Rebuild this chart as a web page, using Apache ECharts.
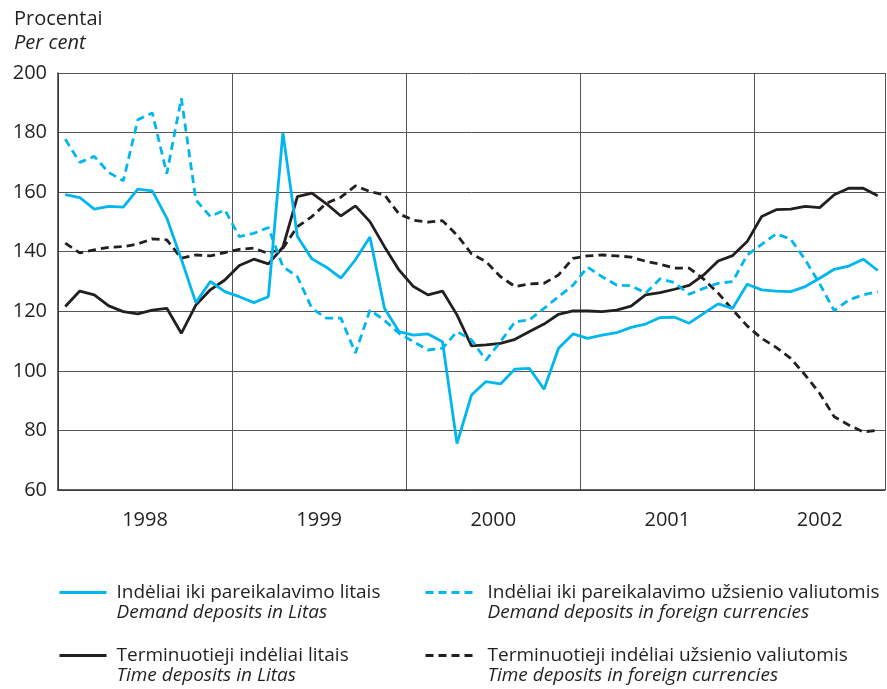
<!DOCTYPE html>
<html>
<head>
<meta charset="utf-8">
<script src="https://cdn.jsdelivr.net/npm/echarts@6/dist/echarts.min.js"></script>
<style>
html, body { margin: 0; padding: 0; background: #fff; }
#main { width: 887px; height: 689px; }
</style>
</head>
<body>
<div id="main"></div>
<script>
// monthly data, 1998-01 .. 2002-09
const years = ['1998', '1999', '2000', '2001', '2002'];

const demandLitas = [
    159.2, 158.2, 154.3, 155.2, 155.0, 161.0, 160.4, 151.3, 137.5, 122.9, 130.0, 126.6,
    124.9, 122.9, 124.9, 180.0, 145.1, 137.6, 134.8, 131.1, 137.3, 144.9, 121.0, 113.2,
    112.0, 112.4, 109.8, 75.6, 91.9, 96.4, 95.6, 100.6, 100.8, 93.8, 107.6, 112.4,
    110.9, 112.0, 112.8, 114.6, 115.7, 117.9, 118.0, 116.0, 119.3, 122.5, 121.0, 129.1,
    127.2, 126.8, 126.6, 128.3, 131.1, 134.1, 135.2, 137.5, 133.7
];
const demandForeign = [
    177.8, 170.0, 172.0, 166.6, 163.8, 184.3, 186.6, 166.2, 191.5, 157.4, 151.8, 154.0,
    145.1, 146.2, 148.1, 135.0, 131.6, 121.0, 117.7, 117.7, 106.0, 120.4, 117.0, 112.6,
    109.8, 107.0, 107.6, 113.2, 110.4, 103.6, 109.8, 116.5, 117.1, 121.0, 124.9, 128.8,
    134.8, 131.6, 128.8, 128.6, 126.1, 130.9, 129.6, 125.7, 127.7, 129.4, 130.0, 138.9,
    142.5, 146.0, 144.2, 137.3, 129.2, 120.2, 123.8, 125.5, 126.6
];
const timeLitas = [
    121.6, 126.8, 125.5, 121.8, 119.9, 119.1, 120.4, 121.0, 112.6, 122.1, 127.2, 130.5,
    135.4, 137.5, 135.9, 141.5, 158.5, 159.7, 156.1, 152.0, 155.4, 150.1, 141.7, 133.9,
    128.3, 125.5, 126.8, 118.8, 108.4, 108.7, 109.2, 110.6, 113.2, 115.7, 119.0, 120.1,
    120.1, 119.9, 120.4, 121.7, 125.5, 126.3, 127.4, 128.7, 132.2, 136.9, 138.7, 143.4,
    151.8, 154.1, 154.3, 155.2, 154.8, 159.1, 161.3, 161.3, 158.8
];
const timeForeign = [
    142.9, 139.6, 140.6, 141.5, 141.7, 142.6, 144.3, 144.0, 137.8, 138.9, 138.6, 139.7,
    140.8, 141.2, 139.4, 141.2, 148.4, 151.8, 156.3, 158.3, 162.1, 160.2, 159.1, 152.7,
    150.6, 149.9, 150.4, 145.6, 139.3, 136.7, 131.6, 128.3, 129.2, 129.4, 132.2, 137.8,
    138.6, 138.9, 138.6, 138.2, 136.8, 135.8, 134.5, 134.5, 130.8, 126.1, 120.5, 115.1,
    110.9, 107.9, 104.2, 98.6, 92.4, 84.6, 81.8, 79.5, 80.1
];

const names = {
    demandLitas: ['Indėliai iki pareikalavimo litais', 'Demand deposits in Litas'],
    demandForeign: ['Indėliai iki pareikalavimo užsienio valiutomis', 'Demand deposits in foreign currencies'],
    timeLitas: ['Terminuotieji indėliai litais', 'Time deposits in Litas'],
    timeForeign: ['Terminuotieji indėliai užsienio valiutomis', 'Time deposits in foreign currencies']
};
const englishOf = {};
Object.values(names).forEach(n => { englishOf[n[0]] = n[1]; });

const FONT = '"Open Sans"';
const CYAN = '#00b6ee';
const BLACK = '#231f20';
const nMonths = demandLitas.length;

// place each value at the middle of its month
const toPoints = arr => arr.map((v, i) => [i + 0.5, v]);

// year label positions: centre of the months each year covers
const yearPos = years.map((y, k) => (k * 12 + Math.min((k + 1) * 12, nMonths)) / 2);

var chartDom = document.getElementById('main');
var myChart = echarts.init(chartDom);
var option;

function makeLegend(name, left, top, gap) {
    return {
        data: [name],
        left: left,
        top: top,
        padding: 0,
        itemWidth: 47,
        itemHeight: 14,
        itemGap: 0,
        selectedMode: false,
        itemStyle: { opacity: 0 },
        lineStyle: { width: 3 },
        formatter: n => '{a|' + n + '}\n{b|' + englishOf[n] + '}',
        textStyle: {
            padding: [20, 0, 0, gap],
            rich: {
                a: { fontFamily: FONT, fontSize: 19, color: '#231f20', lineHeight: 20 },
                b: { fontFamily: FONT, fontSize: 19, fontStyle: 'italic', color: '#231f20', lineHeight: 20 }
            }
        }
    };
}

function makeSeries(name, data, color, dashed) {
    return {
        name: name,
        type: 'line',
        data: toPoints(data),
        symbol: 'none',
        color: color,
        lineStyle: { color: color, width: 2.8, type: dashed ? [8, 5] : 'solid' },
        animation: false
    };
}

option = {
    backgroundColor: '#fff',
    title: {
        text: 'Procentai',
        subtext: 'Per cent',
        left: 9,
        top: 4,
        itemGap: 4,
        textStyle: { fontFamily: FONT, fontSize: 20, fontWeight: 'normal', color: '#231f20' },
        subtextStyle: { fontFamily: FONT, fontSize: 20, fontStyle: 'italic', color: '#231f20' }
    },
    legend: [
        makeLegend(names.demandLitas[0], 58, 583, 5),
        makeLegend(names.demandForeign[0], 424, 583, 10),
        makeLegend(names.timeLitas[0], 58, 646, 5),
        makeLegend(names.timeForeign[0], 424, 646, 10)
    ],
    grid: { left: 58, right: 2, top: 73, bottom: 199 },
    xAxis: {
        type: 'value',
        min: 0,
        max: nMonths,
        interval: 12,
        axisLine: { show: true, lineStyle: { color: '#333', width: 1.5 } },
        axisTick: { show: false },
        splitLine: { show: true, lineStyle: { color: '#555', width: 1 } },
        axisLabel: {
            customValues: yearPos,
            formatter: v => years[yearPos.indexOf(v)] || '',
            margin: 20,
            fontFamily: FONT,
            fontSize: 20,
            color: '#231f20'
        }
    },
    yAxis: {
        type: 'value',
        min: 60,
        max: 200,
        interval: 20,
        axisLine: { show: true, lineStyle: { color: '#333', width: 1.5 } },
        axisTick: { show: false },
        splitLine: { show: true, lineStyle: { color: '#555', width: 1 } },
        axisLabel: { margin: 11, fontFamily: FONT, fontSize: 20, color: '#231f20' }
    },
    series: [
        makeSeries(names.timeForeign[0], timeForeign, BLACK, true),
        makeSeries(names.timeLitas[0], timeLitas, BLACK, false),
        makeSeries(names.demandForeign[0], demandForeign, CYAN, true),
        makeSeries(names.demandLitas[0], demandLitas, CYAN, false)
    ]
};

option && myChart.setOption(option);
</script>
</body>
</html>
